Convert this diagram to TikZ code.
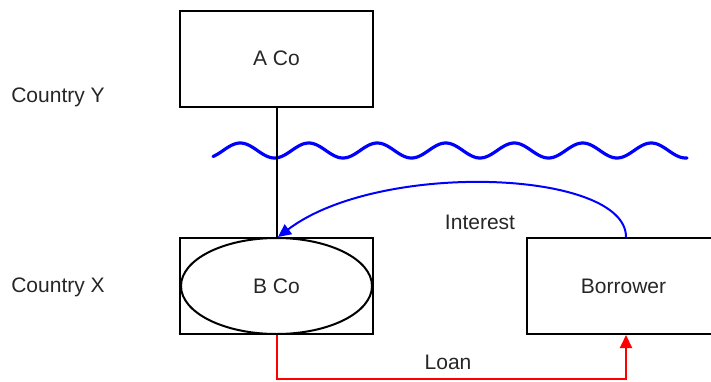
\documentclass[tikz,border=0pt]{standalone}
\usepackage{fontspec}
\setmainfont{Liberation Sans}
\usetikzlibrary{arrows.meta,shapes.geometric}
\begin{document}
\begin{tikzpicture}[x=1pt,y=-1pt,
  box/.style={draw=black,line width=2pt,minimum width=193pt,minimum height=96pt,inner sep=0pt,font=\fontsize{21}{25}\selectfont,text=black!85},
  lbl/.style={font=\fontsize{21}{25}\selectfont,text=black!85,inner sep=0pt},
  tip/.style={-{Triangle[width=12pt,length=13pt]}}]
\useasboundingbox (0,0) rectangle (711,381);
\node[box] (a) at (276.5,58.5) {A Co};
\node[box] (b) at (276.5,286) {};
\node[draw=black,line width=2pt,ellipse,minimum width=191pt,minimum height=96pt,inner sep=0pt,font=\fontsize{21}{25}\selectfont,text=black!85] (bell) at (276.5,286) {B Co};
\node[box] (bor) at (623.5,286) {Borrower};
\node[lbl] (cy) at (58,97) {Country Y};
\node[lbl] (cx) at (58,287) {Country X};
\draw[blue,line width=3.2pt,line cap=round] plot[domain=213:687,samples=240] (\x,{150.5+7.5*cos(5.2555*(\x-206))});
\draw[black,line width=2pt] (a.south) -- (b.north);
\draw[blue,line width=2pt,tip] ([xshift=2.5pt]bor.north) .. controls (626,170) and (380,160) .. ([xshift=1.5pt]b.north);
\node[lbl] (int) at (480,222) {Interest};
\coordinate (l1) at (276.5,379);
\coordinate (l2) at (626,379);
\draw[red,line width=2pt,tip] (b.south) -- (l1) -- (l2) -- ([xshift=2.5pt]bor.south);
\node[lbl] (loan) at (448,362) {Loan};
\end{tikzpicture}
\end{document}
